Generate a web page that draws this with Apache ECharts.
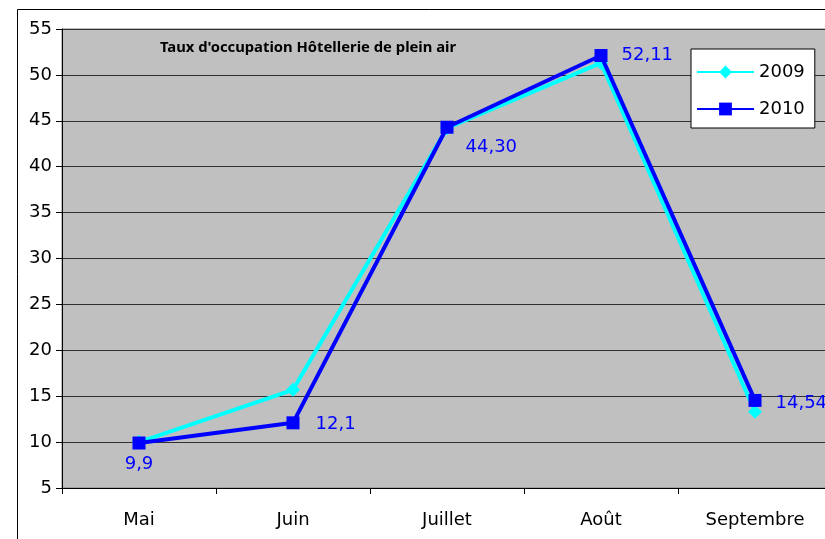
<!DOCTYPE html>
<html>
<head>
<meta charset="utf-8">
<script src="https://cdn.jsdelivr.net/npm/echarts@6/dist/echarts.min.js"></script>
<style>
  html, body { margin: 0; padding: 0; background: #fff; overflow: hidden; }
  #main { width: 840px; height: 539px; }
</style>
</head>
<body>
<div id="main"></div>
<script>
// mois
var months = ['Mai', 'Juin', 'Juillet', 'Août', 'Septembre'];
// taux 2009
var rate2009 = [10.0, 15.7, 44.2, 51.3, 13.3];
// taux 2010
var rate2010 = [9.9, 12.1, 44.30, 52.11, 14.54];
// etiquettes 2010
var labels2010 = ['9,9', '12,1', '44,30', '52,11', '14,54'];
// graduations axe y
var yMin = 5, yMax = 55, yStep = 5;

// placement des etiquettes (style)
var labelPlace = [
    { position: 'bottom', distance: 6, offset: [0, 0] },
    { position: 'right', distance: 16, offset: [0, 2] },
    { position: 'right', distance: 12, offset: [0, 20] },
    { position: 'right', distance: 14, offset: [0, 0] },
    { position: 'right', distance: 14, offset: [0, 3] }
];

var data2010 = [];
for (var i = 0; i < rate2010.length; i++) {
    data2010.push({
        value: rate2010[i],
        label: {
            show: true,
            formatter: labels2010[i],
            position: labelPlace[i].position,
            distance: labelPlace[i].distance,
            offset: labelPlace[i].offset
        }
    });
}

var font = 'DejaVu Sans';
var chart = echarts.init(document.getElementById('main'));
var option = {
    backgroundColor: '#fff',
    animation: false,
    textStyle: { fontFamily: font },
    graphic: [
        {
            type: 'rect',
            z: -10,
            shape: { x: 17.5, y: 9.5, width: 900, height: 700 },
            style: { fill: 'none', stroke: '#000', lineWidth: 1 }
        },
        {
            type: 'text',
            left: 160,
            top: 40,
            z: 10,
            style: {
                text: "Taux d'occupation Hôtellerie de plein air",
                fontFamily: 'Noto Sans',
                fontWeight: 'bold',
                fontSize: 14.8,
                fill: '#000'
            }
        }
    ],
    grid: {
        left: 62,
        top: 29,
        width: 770,
        bottom: 51,
        show: true,
        backgroundColor: '#c0c0c0',
        borderColor: '#808080',
        borderWidth: 1
    },
    legend: {
        orient: 'vertical',
        left: 691,
        top: 49,
        backgroundColor: '#fff',
        borderColor: '#000',
        borderWidth: 1,
        padding: [14, 10, 10, 5],
        itemWidth: 57,
        itemHeight: 16,
        itemGap: 19,
        textStyle: { fontFamily: font, fontSize: 18, color: '#000' },
        data: ['2009', '2010']
    },
    xAxis: {
        type: 'category',
        data: months,
        boundaryGap: true,
        axisLine: { lineStyle: { color: '#000', width: 1 } },
        axisTick: { show: true, interval: 0, length: 6, lineStyle: { color: '#000' } },
        axisLabel: { color: '#000', fontSize: 18, margin: 23, fontFamily: font },
        splitLine: { show: false }
    },
    yAxis: {
        type: 'value',
        min: yMin,
        max: yMax,
        interval: yStep,
        axisLine: { show: true, lineStyle: { color: '#000', width: 1 } },
        axisTick: { show: true, length: 6, lineStyle: { color: '#000' } },
        axisLabel: { color: '#000', fontSize: 18, margin: 10, fontFamily: font },
        splitLine: { show: true, lineStyle: { color: '#303030', width: 1 } }
    },
    series: [
        {
            name: '2009',
            type: 'line',
            data: rate2009,
            symbol: 'diamond',
            symbolSize: 14,
            itemStyle: { color: '#00ffff' },
            lineStyle: { color: '#00ffff', width: 4 },
            z: 2
        },
        {
            name: '2010',
            type: 'line',
            data: data2010,
            symbol: 'rect',
            symbolSize: 13,
            itemStyle: { color: '#0000ff' },
            lineStyle: { color: '#0000ff', width: 4 },
            label: { color: '#0000ff', fontSize: 18, fontFamily: font },
            z: 3
        }
    ]
};
chart.setOption(option);
</script>
</body>
</html>
